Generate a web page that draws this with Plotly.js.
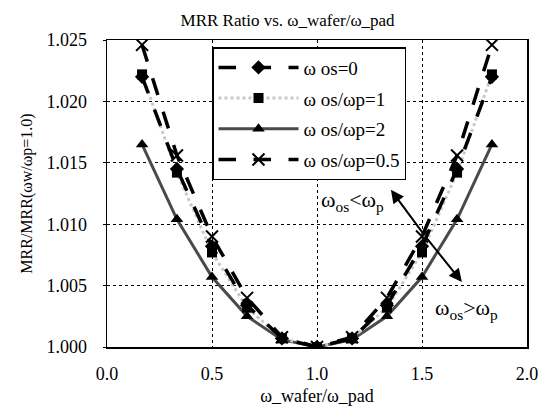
<!DOCTYPE html>
<html>
<head>
<meta charset="utf-8">
<script src="https://cdn.plot.ly/plotly-3.0.1.min.js"></script>
<style>html,body{margin:0;padding:0;background:#fff;}#chart{width:551px;height:417px;}</style>
</head>
<body>
<div id="chart"></div>
<script>
// Data
const xRatio = [0.167, 0.333, 0.5, 0.667, 0.833, 1.0, 1.167, 1.333, 1.5, 1.667, 1.833];
const mrrOs0   = [1.0220, 1.0145, 1.0082, 1.0034, 1.0007, 1.0000, 1.0007, 1.0034, 1.0082, 1.0145, 1.0220];
const mrrOs1   = [1.0222, 1.0142, 1.0077, 1.0032, 1.0007, 1.0000, 1.0007, 1.0032, 1.0077, 1.0142, 1.0222];
const mrrOs2   = [1.0165, 1.0104, 1.0057, 1.0025, 1.0006, 1.0000, 1.0006, 1.0025, 1.0057, 1.0104, 1.0165];
const mrrOs05  = [1.0246, 1.0156, 1.0090, 1.0040, 1.0008, 1.0000, 1.0008, 1.0040, 1.0090, 1.0156, 1.0246];
const seriesNames = ["ω os=0", "ω os/ωp=1", "ω os/ωp=2", "ω os/ωp=0.5"];
const xTickVals = [0.0, 0.5, 1.0, 1.5, 2.0];
const xTickText = ["0.0", "0.5", "1.0", "1.5", "2.0"];
const yTickVals = [1.000, 1.005, 1.010, 1.015, 1.020, 1.025];
const yTickText = ["1.000", "1.005", "1.010", "1.015", "1.020", "1.025"];

const serif = "Liberation Serif, Times New Roman, serif";

const traces = [
  {x: xRatio, y: mrrOs2, name: seriesNames[2], mode: "lines+markers", legendgroup: "c", legendrank: 3,
   line: {color: "#4a4a4a", width: 3}, marker: {symbol: "triangle-up", size: 11, color: "#000"}},
  {x: xRatio, y: mrrOs1, name: seriesNames[1], mode: "lines+markers", legendgroup: "b", legendrank: 2,
   line: {color: "#c8c8c8", width: 3, dash: "dot"}, marker: {symbol: "square", size: 10, color: "#000"}},
  {x: xRatio, y: mrrOs0, name: seriesNames[0], mode: "lines+markers", legendgroup: "a", legendrank: 1,
   line: {color: "#000", width: 3.5, dash: "longdash"}, marker: {symbol: "diamond", size: 11, color: "#000"}},
  {x: xRatio, y: mrrOs05, name: seriesNames[3], mode: "lines+markers", legendgroup: "d", legendrank: 4,
   line: {color: "#000", width: 3.5, dash: "longdash"}, marker: {symbol: "x-thin-open", size: 12, color: "#000", line: {width: 2, color: "#000"}}}
];

const layout = {
  width: 551, height: 417,
  margin: {l: 107, r: 24, t: 40, b: 70},
  paper_bgcolor: "#fff", plot_bgcolor: "#fff",
  font: {family: serif, size: 17, color: "#000"},
  title: {text: "MRR Ratio vs. ω_wafer/ω_pad", font: {family: serif, size: 17, color: "#000"},
          x: 0.43, xref: "paper", y: 0.965, yref: "container", xanchor: "center"},
  xaxis: {range: [0, 2], tickvals: xTickVals, ticktext: xTickText, showgrid: true,
          gridcolor: "#000", griddash: "dot", gridwidth: 1,
          showline: true, linecolor: "#000", linewidth: 1.5, mirror: true, zeroline: false,
          ticks: "", ticklabelstandoff: 10, tickfont: {family: serif, size: 18},
          title: {text: "ω_wafer/ω_pad", font: {family: serif, size: 18}, standoff: 6}},
  yaxis: {range: [1.000, 1.025], tickvals: yTickVals, ticktext: yTickText, showgrid: true,
          gridcolor: "#000", griddash: "dot", gridwidth: 1,
          showline: true, linecolor: "#000", linewidth: 1.5, mirror: true, zeroline: false,
          ticks: "outside", ticklen: 3, tickcolor: "#000", ticklabelstandoff: 12,
          tickfont: {family: serif, size: 18},
          title: {text: "MRR/MRR(ωw/ωp=1.0)", font: {family: serif, size: 16}, standoff: 10}},
  showlegend: true,
  legend: {x: 0.25, y: 0.977, xanchor: "left", yanchor: "top", bgcolor: "#fff",
           bordercolor: "#000", borderwidth: 1.5, font: {family: serif, size: 19},
           itemwidth: 80, tracegroupgap: 3, traceorder: "grouped"},
  annotations: [
    {x: 1.17, y: 1.0119, xref: "x", yref: "y", text: "ω<sub>os</sub><ω<sub>p</sub>", showarrow: false,
     font: {family: serif, size: 22, color: "#000"}},
    {x: 1.71, y: 1.0031, xref: "x", yref: "y", text: "ω<sub>os</sub>>ω<sub>p</sub>", showarrow: false,
     font: {family: serif, size: 22, color: "#000"}},
    {x: 1.352, y: 1.0128, xref: "x", yref: "y", ax: 34, ay: 46, text: "", showarrow: true,
     arrowhead: 2, arrowsize: 1.3, arrowwidth: 2, arrowcolor: "#000"},
    {x: 1.690, y: 1.0053, xref: "x", yref: "y", ax: -37, ay: -46, text: "", showarrow: true,
     arrowhead: 2, arrowsize: 1.3, arrowwidth: 2, arrowcolor: "#000"}
  ]
};

Plotly.newPlot("chart", traces, layout, {displayModeBar: false, staticPlot: true});
</script>
</body>
</html>
